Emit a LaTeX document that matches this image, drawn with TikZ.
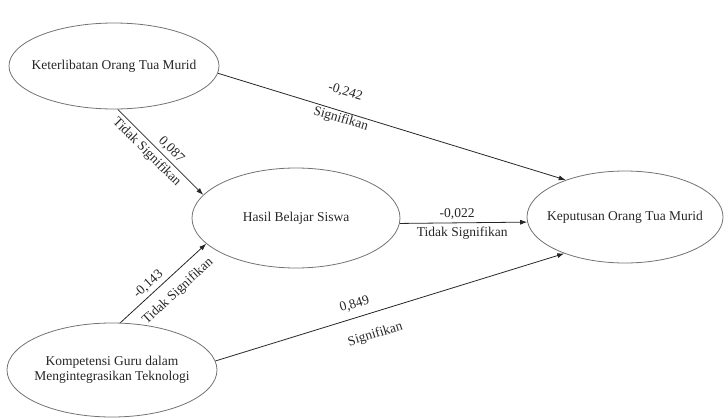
\documentclass[tikz,border=0pt]{standalone}
\usepackage{fontspec}
\setmainfont{Liberation Serif}
\usetikzlibrary{arrows.meta,shapes.geometric}

\begin{document}
\begin{tikzpicture}[x=1pt,y=-1pt,line width=0.8pt,>={Latex[length=7pt,width=5pt]},font=\fontsize{13.5}{15}\selectfont,text=black!85]
\tikzset{construct/.style={draw=black!55,ellipse,align=center,inner xsep=-40pt,inner ysep=0pt}}
\useasboundingbox (0,0) rectangle (728,418);

% constructs
\node[construct,minimum width=210pt,minimum height=86pt] (ConstructA) at (114,66) {Keterlibatan Orang Tua Murid};
\node[construct,minimum width=208pt,minimum height=100pt] (ConstructB) at (296,218) {Hasil Belajar Siswa};
\node[construct,minimum width=196pt,minimum height=92pt] (ConstructC) at (625,217) {Keputusan Orang Tua Murid};
\node[construct,minimum width=210pt,minimum height=94pt] (ConstructD) at (112,370) {Kompetensi Guru dalam\\Mengintegrasikan Teknologi};

% paths
\draw[->,draw=black!85] (ConstructA.-4) -- (ConstructC.148)
node[sloped,above=10pt,pos=0.35] {-0,242}
node[sloped,below=-2pt,pos=0.36] {Signifikan};

\draw[->,draw=black!85] (ConstructA.-85) -- (ConstructB.166)
node[sloped,above=0pt,pos=0.55] {0,087}
node[sloped,below=0pt,pos=0.42] {Tidak Signifikan};

\draw[->,draw=black!85] (ConstructD.80) -- (ConstructB.196)
node[sloped,above=0pt,pos=0.40] {-0,143}
node[sloped,below=6pt,pos=0.545] {Tidak Signifikan};

\draw[->,draw=black!85] (ConstructB.-3) -- (ConstructC.183)
node[above,pos=0.45] {-0,022}
node[below,pos=0.49] {Tidak Signifikan};

\draw[->,draw=black!85] (ConstructD.5) -- (ConstructC.211)
node[sloped,above=4pt,pos=0.41] {0,849}
node[sloped,below=12pt,pos=0.44] {Signifikan};

\end{tikzpicture}
\end{document}
